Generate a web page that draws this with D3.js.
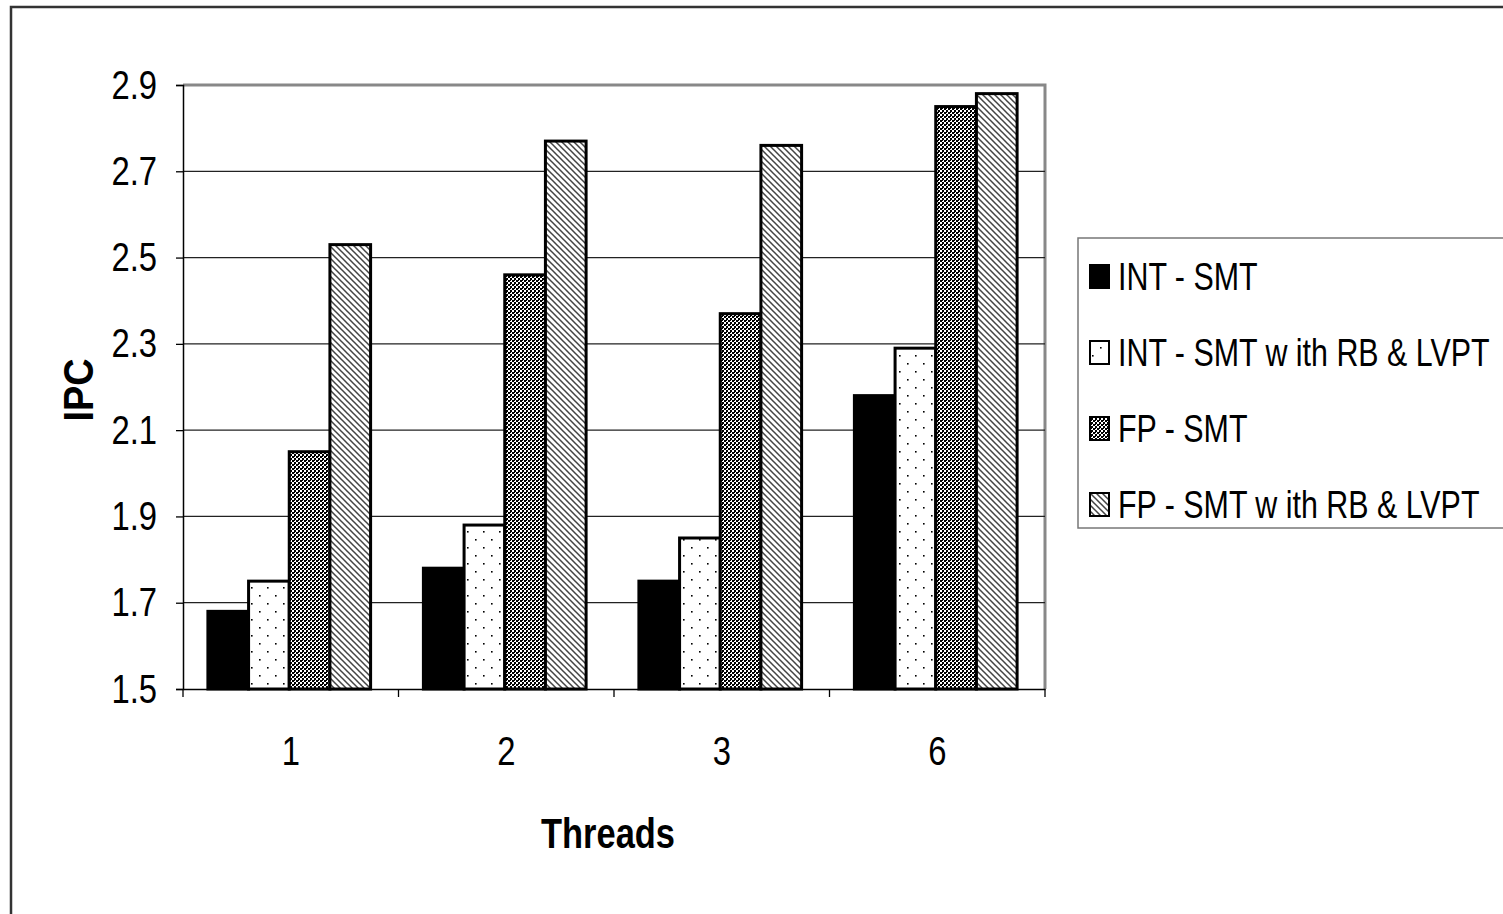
<!DOCTYPE html>
<html>
<head>
<meta charset="utf-8">
<script src="https://cdn.jsdelivr.net/npm/d3@7"></script>
<style>
	html, body { margin:0; padding:0; background:#fff; overflow:hidden; }
	svg { display:block; }
	text { font-family:"Liberation Sans", Arial, sans-serif; fill:#000; }
</style>
</head>
<body>
<div id="chart"></div>
<script>
'use strict';

// data
var categories = ["1", "2", "3", "6"];
var seriesNames = ["INT - SMT", "INT - SMT w ith RB & LVPT", "FP - SMT", "FP - SMT w ith RB & LVPT"];
var intSmt    = [1.68, 1.78, 1.75, 2.18];
var intSmtRb  = [1.75, 1.88, 1.85, 2.29];
var fpSmt     = [2.05, 2.46, 2.37, 2.85];
var fpSmtRb   = [2.53, 2.77, 2.76, 2.88];
var yTicks    = [1.5, 1.7, 1.9, 2.1, 2.3, 2.5, 2.7, 2.9];
var yDomain   = [1.5, 2.9];

var series = [intSmt, intSmtRb, fpSmt, fpSmtRb];
var fills = ["#000", "url(#pDots)", "url(#pCheck)", "url(#pHatch)"];

var W = 1503, H = 914;
var plot = { l:183, r:1045, t:85, b:689 };
var NARROW = 0.8;

// no narrow font installed, so squeeze text horizontally around its anchor
function squeeze(sel, k) {
	sel.each(function() {
		var t = d3.select(this);
		var x = +t.attr("x") || 0, y = +t.attr("y") || 0;
		t.attr("transform", `translate(${x},${y}) scale(${k},1) translate(${-x},${-y})`);
	});
}

var svg = d3.select("#chart").append("svg")
			.attr("width", W)
			.attr("height", H);

// fill patterns
var defs = svg.append("defs");

var pd = defs.append("pattern").attr("id", "pDots")
			 .attr("patternUnits", "userSpaceOnUse")
			 .attr("width", 16).attr("height", 16);
pd.append("rect").attr("width", 16).attr("height", 16).attr("fill", "#fff");
pd.append("rect").attr("x", 3).attr("y", 3).attr("width", 1.6).attr("height", 1.6).attr("fill", "#000");
pd.append("rect").attr("x", 11).attr("y", 11).attr("width", 1.6).attr("height", 1.6).attr("fill", "#000");

var pc = defs.append("pattern").attr("id", "pCheck")
			 .attr("patternUnits", "userSpaceOnUse")
			 .attr("width", 4).attr("height", 4);
pc.append("rect").attr("width", 4).attr("height", 4).attr("fill", "#fff");
pc.append("rect").attr("x", 0).attr("y", 0).attr("width", 2).attr("height", 2).attr("fill", "#000");
pc.append("rect").attr("x", 2).attr("y", 2).attr("width", 2).attr("height", 2).attr("fill", "#000");
pc.append("rect").attr("x", 2).attr("y", 0).attr("width", 1).attr("height", 1).attr("fill", "#000");

var ph = defs.append("pattern").attr("id", "pHatch")
			 .attr("patternUnits", "userSpaceOnUse")
			 .attr("width", 6).attr("height", 6);
ph.append("rect").attr("width", 6).attr("height", 6).attr("fill", "#fff");
ph.append("path")
  .attr("d", "M-1,-1L7,7M-1,5L1,7M5,-1L7,1")
  .attr("stroke", "#444").attr("stroke-width", 1.5);

// outer frame (runs off the right and bottom edge)
svg.append("rect")
   .attr("x", 11).attr("y", 7)
   .attr("width", W + 20).attr("height", H + 20)
   .attr("fill", "none").attr("stroke", "#333").attr("stroke-width", 2.5);

// scales
var x0 = d3.scaleBand().domain(categories).range([plot.l, plot.r]).padding(0);
var gap = x0.bandwidth() * 0.245;
var x1 = d3.scaleBand().domain(d3.range(series.length))
		   .range([gap / 2 - 1.5, x0.bandwidth() - gap / 2 - 1.5]).padding(0);
var y = d3.scaleLinear().domain(yDomain).range([plot.b, plot.t]);

// plot area border + grid
svg.append("path")
   .attr("d", `M${plot.l},${plot.t}H${plot.r}V${plot.b}`)
   .attr("fill", "none").attr("stroke", "#888").attr("stroke-width", 3);

svg.append("g").selectAll("line")
   .data(yTicks.filter(d => d > yDomain[0] && d < yDomain[1]))
   .join("line")
   .attr("x1", plot.l).attr("x2", plot.r)
   .attr("y1", d => y(d)).attr("y2", d => y(d))
   .attr("stroke", "#222").attr("stroke-width", 1.3);

// bars
var bars = svg.append("g");
series.forEach(function(vals, si) {
	bars.append("g").selectAll("rect")
		.data(vals)
		.join("rect")
		.attr("x", (d, i) => x0(categories[i]) + x1(si))
		.attr("width", x1.bandwidth())
		.attr("y", d => y(d))
		.attr("height", d => y(yDomain[0]) - y(d))
		.attr("fill", fills[si])
		.attr("stroke", "#000")
		.attr("stroke-width", 3);
});

// y axis
var yAxis = svg.append("g")
			   .attr("transform", `translate(${plot.l},0)`)
			   .call(d3.axisLeft(y).tickValues(yTicks).tickFormat(d3.format(".1f")).tickSize(7).tickPadding(19));
yAxis.select(".domain").attr("stroke", "#000").attr("stroke-width", 1.5);
yAxis.selectAll(".tick line").attr("stroke", "#000").attr("stroke-width", 1.3);
yAxis.selectAll("text").attr("font-size", 41).attr("font-family", null).attr("fill", "#000")
	 .call(squeeze, NARROW);

// x axis: labels in the middle, ticks on band edges
var xAxis = svg.append("g")
			   .attr("transform", `translate(0,${plot.b})`)
			   .call(d3.axisBottom(x0).tickSize(0).tickPadding(47));
xAxis.select(".domain").attr("stroke", "#000").attr("stroke-width", 1.5);
xAxis.selectAll("text").attr("font-size", 41).attr("font-family", null).attr("fill", "#000")
	 .call(squeeze, NARROW);

var edges = categories.map(c => x0(c)).concat([plot.r]);
xAxis.selectAll(".edge")
	 .data(edges)
	 .join("line")
	 .attr("class", "edge")
	 .attr("x1", d => d).attr("x2", d => d)
	 .attr("y1", 0).attr("y2", 8)
	 .attr("stroke", "#000").attr("stroke-width", 1.3);

// axis titles
svg.append("text")
   .attr("x", 608).attr("y", 848)
   .attr("text-anchor", "middle")
   .attr("font-size", 42).attr("font-weight", "bold")
   .text("Threads")
   .call(squeeze, 0.82);

svg.append("text")
   .attr("transform", `translate(93,390) rotate(-90) scale(0.9,1)`)
   .attr("text-anchor", "middle")
   .attr("font-size", 42).attr("font-weight", "bold")
   .text("IPC");

// legend
var lg = svg.append("g");
lg.append("rect")
  .attr("x", 1078).attr("y", 238)
  .attr("width", 500).attr("height", 290)
  .attr("fill", "#fff").attr("stroke", "#777").attr("stroke-width", 1.5);

var items = lg.selectAll(".item")
			  .data(seriesNames)
			  .join("g")
			  .attr("class", "item")
			  .attr("transform", (d, i) => `translate(1089,${276 + i * 76})`);

items.append("rect")
	 .attr("x", 1).attr("y", -11)
	 .attr("width", 19).attr("height", 23)
	 .attr("fill", (d, i) => fills[i])
	 .attr("stroke", "#000").attr("stroke-width", 2);

items.append("text")
	 .attr("x", 29).attr("y", 14)
	 .attr("font-size", 38)
	 .text(d => d)
	 .call(squeeze, NARROW);
</script>
</body>
</html>
